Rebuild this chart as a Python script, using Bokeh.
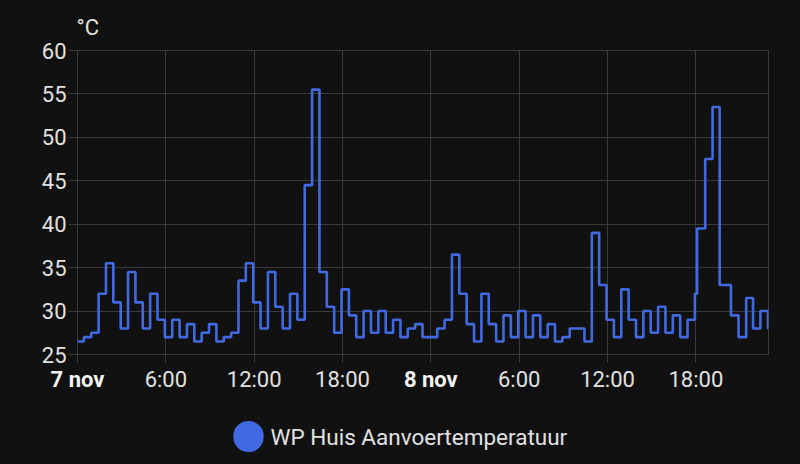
import pandas as pd
from bokeh.plotting import figure
from bokeh.models import Range1d, FixedTicker, LinearAxis, Label, ColumnDataSource
from bokeh.embed import file_html
from bokeh.resources import INLINE

# 7 nov - readings roughly every half hour
day7_times = ["00:00", "00:26", "00:56", "01:26", "01:56", "02:26", "02:56", "03:26", "03:56", "04:26",
              "04:56", "05:26", "05:56", "06:26", "06:56", "07:26", "07:56", "08:26", "08:56", "09:26",
              "09:56", "10:26", "10:56", "11:26", "11:56", "12:26", "12:56", "13:26", "13:56", "14:26",
              "14:56", "15:26", "15:56", "16:26", "16:56", "17:26", "17:56", "18:26", "18:56", "19:26",
              "19:56", "20:26", "20:56", "21:26", "21:56", "22:26", "22:56", "23:26", "23:56"]
day7_temps = [26.5, 27, 27.5, 32, 35.5, 31, 28, 34.5, 31, 28,
              32, 29, 27, 29, 27, 28.5, 26.5, 27.5, 28.5, 26.5,
              27, 27.5, 33.5, 35.5, 31, 28, 34.5, 30.5, 28, 32,
              29, 44.5, 55.5, 34.5, 30.5, 27.5, 32.5, 29.5, 27, 30,
              27.5, 30, 27.5, 29, 27, 28, 28.5, 27, 27]

# 8 nov
day8_times = ["00:26", "00:56", "01:26", "01:56", "02:26", "02:56", "03:26", "03:56", "04:26", "04:56",
              "05:26", "05:56", "06:26", "06:56", "07:26", "07:56", "08:26", "08:56", "09:26", "09:56",
              "10:26", "10:56", "11:26", "11:56", "12:26", "12:56", "13:26", "13:56", "14:26", "14:56",
              "15:26", "15:56", "16:26", "16:56", "17:26", "17:56", "18:05", "18:38", "19:08", "19:37",
              "20:23", "20:54", "21:25", "21:53", "22:23", "22:54", "22:56"]
day8_temps = [28, 29, 36.5, 32, 28.5, 26.5, 32, 28.5, 26.5, 29.5,
              27, 30, 27, 29.5, 27, 28.5, 26.5, 27, 28, 28,
              26.5, 39, 33, 29, 27, 32.5, 29, 27, 30, 27.5,
              30.5, 27.5, 29.5, 27, 29, 32, 39.5, 47.5, 53.5, 33,
              29.5, 27, 31.5, 28, 30, 28, 28]

series_name = "WP Huis Aanvoertemperatuur"
unit = "°C"
y_ticks = [25, 30, 35, 40, 45, 50, 55, 60]
x_ticks = [0, 6, 12, 18, 24, 30, 36, 42]
x_tick_labels = ["7 nov", "6:00", "12:00", "18:00", "8 nov", "6:00", "12:00", "18:00"]
day_ticks = [0, 24]

BG = "#111111"
GRID = "#3a3a3a"
TEXT = "#e1e1e1"
BLUE = "#4169e1"
FONT = "Roboto"
FS = "22px"


def to_hours(t, day):
    h, m = t.split(":")
    return day * 24 + int(h) + int(m) / 60.0


df = pd.DataFrame({
    "hours": [to_hours(t, 0) for t in day7_times] + [to_hours(t, 1) for t in day8_times],
    "temp": day7_temps + day8_temps,
})
src = ColumnDataSource(df)

x_start, y_start = 0, y_ticks[0]

p = figure(width=800, height=464, output_backend="svg", toolbar_location=None,
           x_range=Range1d(x_start, df.hours.iloc[-1]), y_range=Range1d(y_start, y_ticks[-1]),
           background_fill_color=BG, border_fill_color=BG,
           min_border_left=77, min_border_right=32, min_border_top=50, min_border_bottom=110)

p.step("hours", "temp", source=src, mode="after", line_color=BLUE, line_width=2.6)

p.title.text = unit
p.title.align = "left"
p.title.offset = -1
p.title.standoff = 21
p.title.text_color = TEXT
p.title.text_font = FONT
p.title.text_font_size = FS
p.title.text_font_style = "normal"

p.grid.grid_line_color = GRID
p.outline_line_color = GRID

p.yaxis.ticker = FixedTicker(ticks=y_ticks)
p.xaxis.ticker = FixedTicker(ticks=x_ticks)
p.xaxis.major_label_overrides = {t: ("" if t in day_ticks else lab) for t, lab in zip(x_ticks, x_tick_labels)}

for ax in (p.xaxis, p.yaxis):
    ax.axis_line_color = None
    ax.major_tick_line_color = GRID
    ax.major_tick_in = 0
    ax.minor_tick_line_color = None
    ax.major_label_text_color = TEXT
    ax.major_label_text_font = FONT
    ax.major_label_text_font_size = FS
p.yaxis.major_tick_out = 9
p.yaxis.major_label_standoff = 2
p.xaxis.major_tick_out = 8
p.xaxis.major_label_standoff = 4

# bold day labels: second axis, pulled up onto the row of the first one
day_axis = LinearAxis(ticker=FixedTicker(ticks=day_ticks),
                      major_label_overrides={t: lab for t, lab in zip(x_ticks, x_tick_labels) if t in day_ticks},
                      axis_line_color=None, major_tick_line_color=None, minor_tick_line_color=None,
                      major_tick_in=0, major_tick_out=0, major_label_standoff=-28,
                      major_label_text_color="#f2f2f2", major_label_text_font=FONT,
                      major_label_text_font_size=FS, major_label_text_font_style="bold")
p.add_layout(day_axis, "below")

# legend row under the axis: round swatch + series name
swatch = Label(x=x_start, y=y_start, x_offset=171, y_offset=-82, text=" ", text_font_size="1px",
               text_align="center", text_baseline="middle", padding=15, border_radius=15,
               background_fill_color=BLUE, text_color=BLUE)
name = Label(x=x_start, y=y_start, x_offset=193, y_offset=-82, text=series_name,
             text_align="left", text_baseline="middle", text_color=TEXT,
             text_font=FONT, text_font_size="22.5px")
p.add_layout(swatch, "below")
p.add_layout(name, "below")

html = file_html(p, INLINE)
html = html.replace("<body>", '<body style="background-color:#111111;">')
open("out.html", "w").write(html)
